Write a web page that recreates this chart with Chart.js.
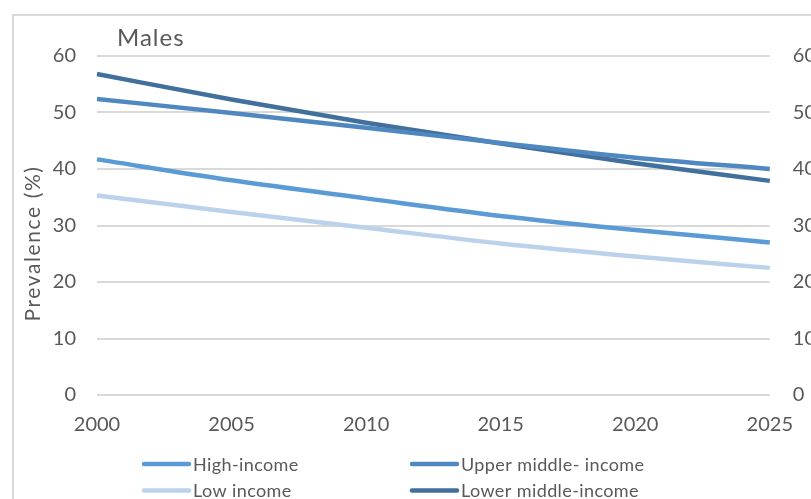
<!DOCTYPE html>
<html>
<head>
<meta charset="utf-8">
<script src="https://cdn.jsdelivr.net/npm/chart.js@4/dist/chart.umd.min.js"></script>
<style>
  html, body { margin: 0; padding: 0; background: #fff; overflow: hidden; }
  #wrap { width: 811px; height: 499px; position: relative; }
</style>
</head>
<body>
<div id="wrap"><canvas id="c" width="811" height="499"></canvas></div>
<script>
// Smoking prevalence among males by country income group
const years = ['2000', '2005', '2010', '2015', '2020', '2025'];
const highIncome        = [41.7, 38.0, 34.8, 31.7, 29.2, 27.0];
const upperMiddleIncome = [52.4, 49.9, 47.3, 44.6, 42.0, 40.0];
const lowIncome         = [35.3, 32.4, 29.6, 26.8, 24.5, 22.5];
const lowerMiddleIncome = [56.8, 52.3, 48.2, 44.5, 41.0, 37.9];
const seriesNames = ['High-income', 'Upper middle- income', 'Low income', 'Lower middle-income'];
const yTicks = [0, 10, 20, 30, 40, 50, 60];
const chartTitle = 'Males';
const yAxisTitle = 'Prevalence (%)';

const TEXT = '#595959';
const FONT = 'Lato';

function setSpacing(ctx, px) {
  if ('letterSpacing' in ctx) ctx.letterSpacing = px + 'px';
}

// Outer frame, panel title, rotated axis title and a two-column legend
const decor = {
  id: 'decor',
  beforeDraw(chart) {
    const ctx = chart.ctx;
    ctx.save();
    ctx.strokeStyle = '#d9d9d9';
    ctx.lineWidth = 2;
    ctx.strokeRect(13, 15, 900, 600);
    ctx.restore();
  },
  afterDraw(chart) {
    const ctx = chart.ctx;
    ctx.save();
    ctx.fillStyle = TEXT;

    ctx.font = '24px ' + FONT;
    setSpacing(ctx, 1);
    ctx.textBaseline = 'alphabetic';
    ctx.textAlign = 'left';
    ctx.fillText(chartTitle, 117, 46);

    ctx.save();
    ctx.translate(40, 243.5);
    ctx.rotate(-Math.PI / 2);
    ctx.font = '21px ' + FONT;
    setSpacing(ctx, 1.6);
    ctx.textAlign = 'center';
    ctx.fillText(yAxisTitle, 0, 0);
    ctx.restore();

    const cols = [142, 410];
    const rows = [464, 490.5];
    chart.data.datasets.forEach((ds, i) => {
      const x = cols[i % 2];
      const y = rows[Math.floor(i / 2)];
      ctx.strokeStyle = ds.borderColor;
      ctx.lineWidth = 4.5;
      ctx.lineCap = 'round';
      ctx.beginPath();
      ctx.moveTo(x + 2, y);
      ctx.lineTo(x + 47, y);
      ctx.stroke();
      ctx.fillStyle = TEXT;
      ctx.font = '18px ' + FONT;
      setSpacing(ctx, 0.4);
      ctx.textAlign = 'left';
      ctx.textBaseline = 'alphabetic';
      ctx.fillText(ds.label, x + 51, y + 6.5);
    });
    ctx.restore();
  }
};

function line(label, data, color) {
  return {
    label, data,
    borderColor: color,
    backgroundColor: color,
    borderWidth: 4.5,
    pointRadius: 0,
    fill: false,
    cubicInterpolationMode: 'monotone'
  };
}

const yScale = (position, width, withGrid, pad) => ({
  position,
  min: yTicks[0],
  max: yTicks[yTicks.length - 1],
  ticks: {
    stepSize: yTicks[1] - yTicks[0],
    color: TEXT,
    font: { family: FONT, size: 20 },
    padding: pad
  },
  grid: { display: withGrid, color: '#d9d9d9', lineWidth: 2, drawTicks: false },
  border: { display: false },
  afterFit(s) { s.width = width; }
});

document.fonts.load('20px ' + FONT).finally(() => {
  new Chart(document.getElementById('c'), {
    type: 'line',
    data: {
      labels: years,
      datasets: [
        line(seriesNames[0], highIncome, '#5b9bd5'),
        line(seriesNames[1], upperMiddleIncome, '#4f87c0'),
        line(seriesNames[2], lowIncome, '#bcd2ea'),
        line(seriesNames[3], lowerMiddleIncome, '#41709c')
      ]
    },
    options: {
      responsive: false,
      animation: false,
      layout: { padding: { top: 56, left: 0, right: 0, bottom: 0 } },
      plugins: { legend: { display: false }, title: { display: false }, tooltip: { enabled: false } },
      scales: {
        x: {
          offset: false,
          ticks: { color: TEXT, font: { family: FONT, size: 20 }, padding: 18, maxRotation: 0, autoSkip: false },
          grid: { display: false, drawTicks: false },
          border: { display: false },
          afterFit(s) { s.height = 104; }
        },
        y: yScale('left', 97, true, 21),
        y2: yScale('right', 41, false, 23)
      }
    },
    plugins: [decor]
  });
});
</script>
</body>
</html>
